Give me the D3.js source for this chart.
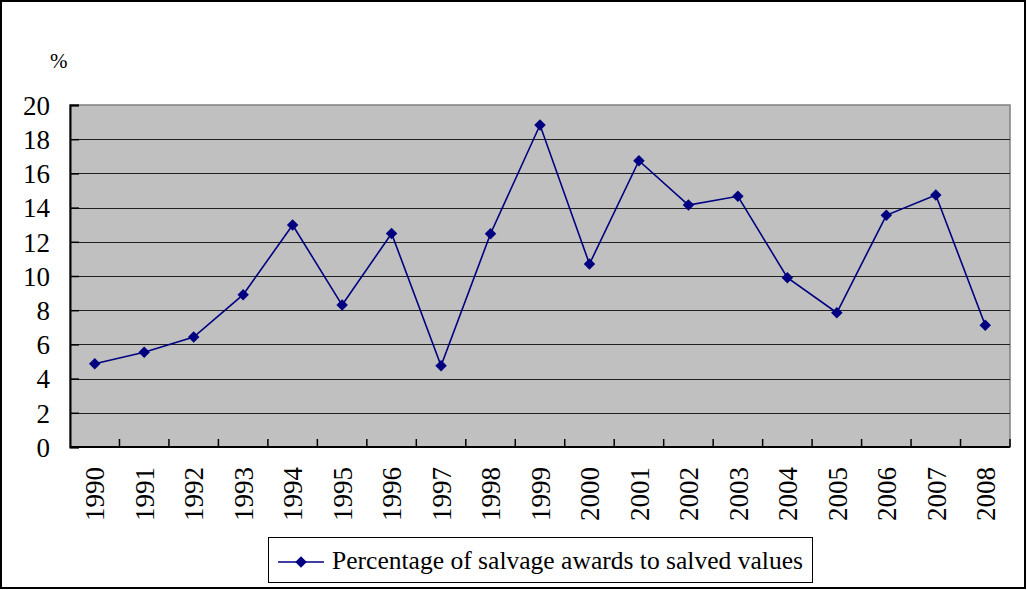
<!DOCTYPE html>
<html><head><meta charset="utf-8">
<script src="https://cdn.jsdelivr.net/npm/d3@7"></script>
<style>body{margin:0;background:#fff}svg{display:block}text{font-family:"Liberation Serif","Times New Roman",serif;fill:#000}</style>
</head><body>
<svg id="c" width="1027" height="590"></svg>
<script>
const years = ["1990","1991","1992","1993","1994","1995","1996","1997","1998","1999","2000","2001","2002","2003","2004","2005","2006","2007","2008"];
const values = [4.87,5.54,6.43,8.91,12.98,8.30,12.49,4.75,12.47,18.83,10.70,16.74,14.15,14.66,9.90,7.85,13.55,14.74,7.12];
const yTicks = [0,2,4,6,8,10,12,14,16,18,20];
const seriesName = "Percentage of salvage awards to salved values";
const unitLabel = "%";

const svg = d3.select("#c");
const L = 70, R = 1010, T = 105, B = 447;
const navy = "#000080";

svg.append("rect").attr("x",1).attr("y",1).attr("width",1024).attr("height",587)
  .attr("fill","#fff").attr("stroke","#000").attr("stroke-width",2);

const x = d3.scaleBand().domain(years).range([L,R]).paddingInner(0).paddingOuter(0);
const y = d3.scaleLinear().domain([0,20]).range([B,T]);

svg.append("rect").attr("x",L).attr("y",T).attr("width",R-L).attr("height",B-T)
  .attr("fill","#c0c0c0").attr("stroke","#808080").attr("stroke-width",1.5);

// gridlines
svg.append("g").selectAll("line").data(yTicks.filter(d=>d>0&&d<20)).join("line")
  .attr("x1",L).attr("x2",R).attr("y1",d=>Math.round(y(d))+0.5).attr("y2",d=>Math.round(y(d))+0.5)
  .attr("stroke","#202020").attr("stroke-width",1);

// y axis (ticks inside)
const ya = svg.append("g").attr("transform",`translate(${L},0)`)
  .call(d3.axisRight(y).tickValues(yTicks).tickSize(9).tickFormat(""));
ya.select(".domain").attr("stroke","#000").attr("stroke-width",2);
ya.selectAll(".tick line").attr("stroke","#000").attr("stroke-width",1.5);
svg.append("g").selectAll("text").data(yTicks).join("text")
  .attr("x",50).attr("y",d=>y(d)).attr("dy","0.36em").attr("text-anchor","end")
  .style("font-size","27px").text(d=>d);

// x axis (ticks inside, at category boundaries)
const bounds = years.slice(1).map(d=>x(d)).concat([R]);
svg.append("line").attr("x1",L).attr("x2",R).attr("y1",B).attr("y2",B).attr("stroke","#000").attr("stroke-width",2);
svg.append("g").selectAll("line").data(bounds).join("line")
  .attr("x1",d=>d).attr("x2",d=>d).attr("y1",B).attr("y2",B-8)
  .attr("stroke","#000").attr("stroke-width",1.5);
svg.append("g").selectAll("text").data(years).join("text")
  .attr("transform",d=>`translate(${x(d)+x.bandwidth()/2},${B+20}) rotate(-90)`)
  .attr("text-anchor","end").attr("dy","0.36em").style("font-size","27px").text(d=>d);

svg.append("text").attr("x",50).attr("y",68).style("font-size","21px").text(unitLabel);

// line
const cx = d=>x(d)+x.bandwidth()/2;
svg.append("path").datum(years.map((d,i)=>[cx(d),y(values[i])]))
  .attr("d",d3.line()).attr("fill","none").attr("stroke",navy).attr("stroke-width",1.6);
const diamond = d3.symbol().type(d3.symbolSquare).size(66);
svg.append("g").selectAll("path").data(years).join("path")
  .attr("transform",(d,i)=>`translate(${cx(d)},${y(values[i])}) rotate(45)`)
  .attr("d",diamond).attr("fill",navy);

// legend
const lg = svg.append("g");
lg.append("rect").attr("x",268.5).attr("y",537.5).attr("width",544).attr("height",45)
  .attr("fill","#fff").attr("stroke","#000").attr("stroke-width",1);
lg.append("line").attr("x1",278).attr("x2",324).attr("y1",562).attr("y2",562).attr("stroke",navy).attr("stroke-width",1.6);
lg.append("path").attr("transform","translate(301,562) rotate(45)").attr("d",diamond).attr("fill",navy);
const lt = lg.append("text").attr("x",332).attr("y",569).style("font-size","26px").text(seriesName);
lt.attr("textLength",471).attr("lengthAdjust","spacingAndGlyphs");
</script>
</body></html>
